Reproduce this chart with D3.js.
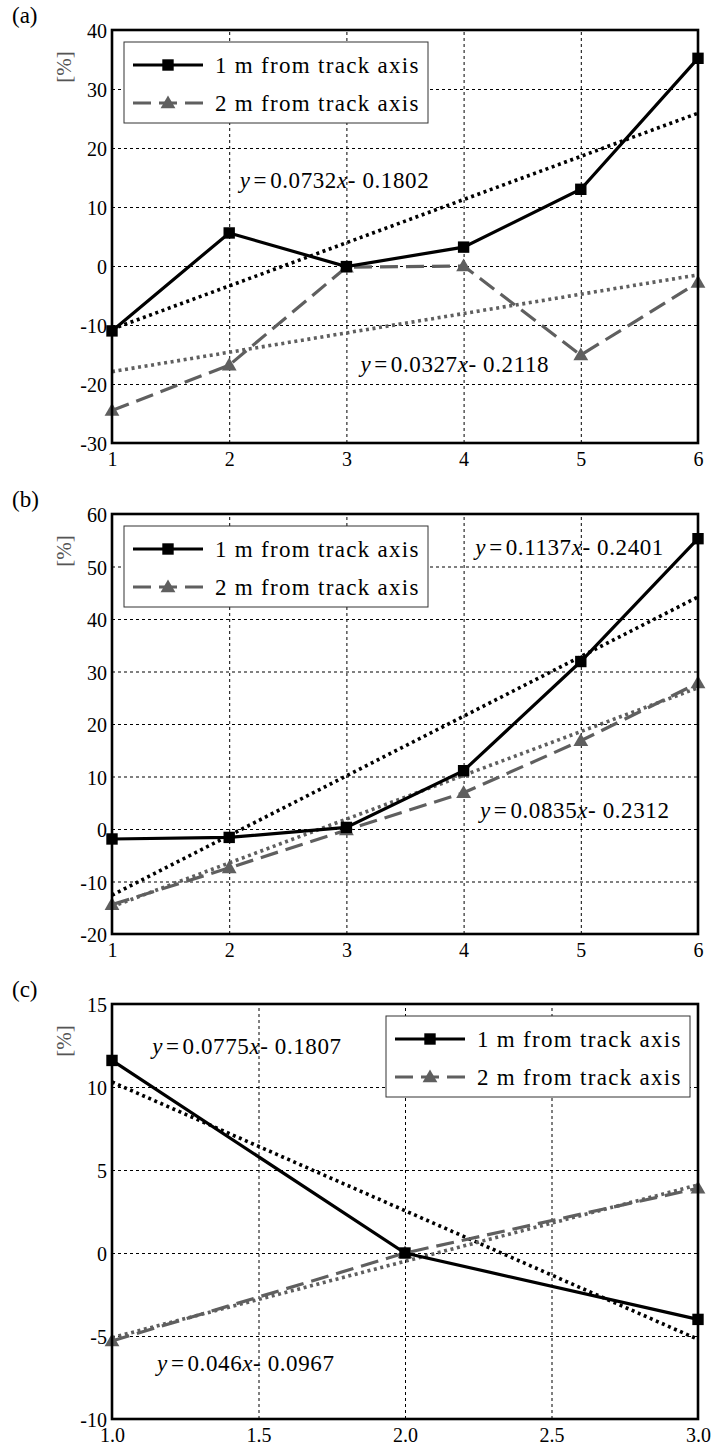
<!DOCTYPE html>
<html>
<head>
<meta charset="utf-8">
<script src="https://cdn.jsdelivr.net/npm/d3@7"></script>
<style>
body { margin: 0; background: #fff; }
svg text { font-family: "Liberation Serif", "Times New Roman", Tinos, "DejaVu Serif", "Noto Serif", FreeSerif, serif; fill: #000; }
</style>
</head>
<body>
<svg id="chart" width="713" height="1448"></svg>
<script>
// legend names
const seriesNames = ["1 m from track axis", "2 m from track axis"];

// panel (a)
const aX = [1, 2, 3, 4, 5, 6];
const a1m = [-11, 5.6, -0.1, 3.2, 13, 35.2];
const a2m = [-24.5, -16.8, -0.2, 0, -15.1, -2.8];
const aFit1 = [-10.7, 25.9];   // trend line values at first and last x
const aFit2 = [-17.9, -1.5];
const aEq1 = ["0.0732", "0.1802"];
const aEq2 = ["0.0327", "0.2118"];
const aTicksX = [1, 2, 3, 4, 5, 6];
const aTicksY = [-30, -20, -10, 0, 10, 20, 30, 40];

// panel (b)
const bX = [1, 2, 3, 4, 5, 6];
const b1m = [-1.9, -1.6, 0.3, 11.1, 31.9, 55.3];
const b2m = [-14.4, -7.4, -0.2, 6.9, 16.8, 27.8];
const bFit1 = [-12.6, 44.2];
const bFit2 = [-14.8, 26.9];
const bEq1 = ["0.1137", "0.2401"];
const bEq2 = ["0.0835", "0.2312"];
const bTicksX = [1, 2, 3, 4, 5, 6];
const bTicksY = [-20, -10, 0, 10, 20, 30, 40, 50, 60];

// panel (c)
const cX = [1, 2, 3];
const c1m = [11.6, 0, -4.0];
const c2m = [-5.3, 0, 3.9];
const cFit1 = [10.3, -5.2];
const cFit2 = [-5.1, 4.1];
const cEq1 = ["0.0775", "0.1807"];
const cEq2 = ["0.046", "0.0967"];
const cTicksX = [1.0, 1.5, 2.0, 2.5, 3.0];
const cTicksY = [-10, -5, 0, 5, 10, 15];

const svg = d3.select("#chart");
const left = 112, right = 698;
const gray = "#5f5f5f";
const dashed = "18,8";
const dotted = "3,3.6";

function drawPanel(p) {
    const x = d3.scaleLinear().domain(d3.extent(p.ticksX)).range([left, right]);
    const y = d3.scaleLinear().domain(d3.extent(p.ticksY)).range([p.bottom, p.top]);
    const g = svg.append("g");

    // grid
    g.append("g")
        .attr("transform", `translate(0,${p.bottom})`)
        .call(d3.axisBottom(x).tickValues(p.ticksX).tickSize(-(p.bottom - p.top)).tickFormat(""))
        .call(a => a.select(".domain").remove())
        .selectAll("line").attr("stroke", "#000").attr("stroke-width", 1).attr("stroke-dasharray", "3,3");
    g.append("g")
        .attr("transform", `translate(${left},0)`)
        .call(d3.axisLeft(y).tickValues(p.ticksY).tickSize(-(right - left)).tickFormat(""))
        .call(a => a.select(".domain").remove())
        .selectAll("line").attr("stroke", "#000").attr("stroke-width", 1).attr("stroke-dasharray", "3,3");

    // tick labels
    g.append("g")
        .attr("transform", `translate(0,${p.bottom})`)
        .call(d3.axisBottom(x).tickValues(p.ticksX).tickSize(0).tickPadding(9).tickFormat(p.fmtX))
        .call(a => a.select(".domain").remove())
        .selectAll("text").attr("font-size", 20).attr("fill", "#000");
    g.append("g")
        .attr("transform", `translate(${left},0)`)
        .call(d3.axisLeft(y).tickValues(p.ticksY).tickSize(0).tickPadding(5).tickFormat(d => d < 0 ? "-" + Math.abs(d) : d))
        .call(a => a.select(".domain").remove())
        .selectAll("text").attr("font-size", 20).attr("fill", "#000").attr("dy", "0.38em");

    // trend lines
    const ends = d3.extent(p.xs);
    const line = d3.line().x(d => x(d[0])).y(d => y(d[1]));
    [[p.fit1, "#000"], [p.fit2, gray]].forEach(([f, c]) => {
        g.append("path")
            .attr("d", line([[ends[0], f[0]], [ends[1], f[1]]]))
            .attr("fill", "none").attr("stroke", c).attr("stroke-width", 3.6)
            .attr("stroke-dasharray", dotted);
    });

    // data series (2 m drawn below 1 m)
    const tri = d3.symbol(d3.symbolTriangle, 95);
    const sq = d3.symbol(d3.symbolSquare, 130);
    g.append("path")
        .attr("d", line(p.xs.map((v, i) => [v, p.s2[i]])))
        .attr("fill", "none").attr("stroke", gray).attr("stroke-width", 3.2)
        .attr("stroke-dasharray", dashed);
    g.append("g").selectAll("path").data(p.xs).join("path")
        .attr("transform", (d, i) => `translate(${x(d)},${y(p.s2[i]) + 1})`)
        .attr("d", tri).attr("fill", gray);
    g.append("path")
        .attr("d", line(p.xs.map((v, i) => [v, p.s1[i]])))
        .attr("fill", "none").attr("stroke", "#000").attr("stroke-width", 3.2);
    g.append("g").selectAll("path").data(p.xs).join("path")
        .attr("transform", (d, i) => `translate(${x(d)},${y(p.s1[i])})`)
        .attr("d", sq).attr("fill", "#000");

    // equations
    p.eqs.forEach(([parts, px, py]) => {
        const t = g.append("text")
            .attr("x", x(px)).attr("y", y(py))
            .attr("font-size", 23).attr("letter-spacing", 0.6);
        t.append("tspan").attr("font-style", "italic").text("y");
        t.append("tspan").attr("dx", 3).text("=");
        t.append("tspan").attr("dx", 3).text(parts[0]);
        t.append("tspan").attr("font-style", "italic").text("x");
        t.append("tspan").text("- " + parts[1]);
    });

    // frame
    g.append("rect")
        .attr("x", left).attr("y", p.top)
        .attr("width", right - left).attr("height", p.bottom - p.top)
        .attr("fill", "none").attr("stroke", "#000").attr("stroke-width", 2.6);

    // legend
    const lw = 304, lh = 81;
    const lx = p.legendRight ? right - 8 - lw : left + 12;
    const ly = p.top + 12;
    const lg = g.append("g").attr("transform", `translate(${lx},${ly})`);
    lg.append("rect").attr("width", lw).attr("height", lh)
        .attr("fill", "#fff").attr("stroke", "#333").attr("stroke-width", 1);
    seriesNames.forEach((name, i) => {
        const cy = 23 + i * 38;
        lg.append("line").attr("x1", 9).attr("x2", 79).attr("y1", cy).attr("y2", cy)
            .attr("stroke", i ? gray : "#000").attr("stroke-width", 3.2)
            .attr("stroke-dasharray", i ? dashed : null);
        lg.append("path").attr("transform", `translate(44,${cy + (i ? 1 : 0)})`)
            .attr("d", i ? tri : sq).attr("fill", i ? gray : "#000");
        lg.append("text").attr("x", 91).attr("y", cy).attr("dy", "0.35em")
            .attr("font-size", 23).attr("letter-spacing", 1.3).text(name);
    });

    // panel letter and unit
    svg.append("text").attr("x", 12).attr("y", p.top - 7).attr("font-size", 23).text(p.letter);
    svg.append("text")
        .attr("transform", `translate(71,${p.top + 37}) rotate(-90)`)
        .attr("text-anchor", "middle").attr("font-size", 21).style("fill", "#555").text("[%]");
}

drawPanel({
    letter: "(a)", top: 30, bottom: 443,
    xs: aX, s1: a1m, s2: a2m, fit1: aFit1, fit2: aFit2,
    ticksX: aTicksX, ticksY: aTicksY, fmtX: d3.format("d"),
    eqs: [[aEq1, 2.09, 13.2], [aEq2, 3.12, -18.0]],
    legendRight: false
});

drawPanel({
    letter: "(b)", top: 514, bottom: 934,
    xs: bX, s1: b1m, s2: b2m, fit1: bFit1, fit2: bFit2,
    ticksX: bTicksX, ticksY: bTicksY, fmtX: d3.format("d"),
    eqs: [[bEq1, 4.10, 52.2], [bEq2, 4.14, 2.1]],
    legendRight: false
});

drawPanel({
    letter: "(c)", top: 1004, bottom: 1419,
    xs: cX, s1: c1m, s2: c2m, fit1: cFit1, fit2: cFit2,
    ticksX: cTicksX, ticksY: cTicksY, fmtX: d3.format(".1f"),
    eqs: [[cEq1, 1.137, 12.0], [cEq2, 1.154, -7.1]],
    legendRight: true
});
</script>
</body>
</html>
